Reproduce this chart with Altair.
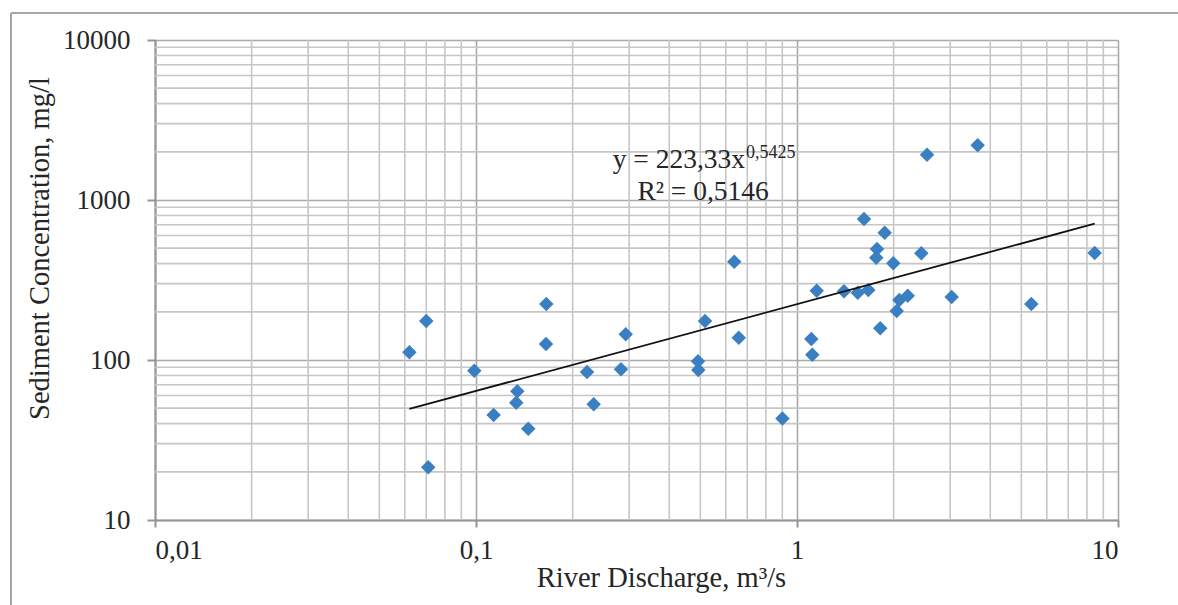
import altair as alt
import numpy as np
import pandas as pd

# River discharge (m3/s) and sediment concentration (mg/l) samples
discharge = [
    0.0620, 0.0700, 0.0710, 0.0988, 0.1135, 0.1345, 0.1335, 0.1455, 0.1656, 0.1652,
    0.2217, 0.2326, 0.2829, 0.2927, 0.4915, 0.4926, 0.5170, 0.6377, 0.6584, 0.9010,
    1.108, 1.116, 1.152, 1.401, 1.546, 1.668, 1.617, 1.775, 1.766, 1.817,
    1.876, 1.995, 2.045, 2.083, 2.213, 2.439, 2.541, 3.033, 3.655, 5.370, 8.461,
]
concentration = [
    111.7, 175.4, 21.4, 85.7, 45.3, 63.7, 54.1, 37.2, 223.9, 125.9,
    84.1, 52.9, 87.5, 144.7, 98.1, 86.6, 175.4, 411.6, 137.8, 43.1,
    135.3, 107.9, 271.1, 268.8, 263.4, 273.8, 760.8, 494.0, 436.0, 157.8,
    624.6, 402.2, 202.5, 237.1, 252.3, 464.5, 1919.0, 247.6, 2197.0, 223.9, 466.5,
]

# Power-law trend line y = a * x^b
coef_a = 223.33
coef_b = 0.5425
r_squared = "0,5146"

x_major = [0.01, 0.1, 1, 10]
y_major = [10, 100, 1000, 10000]
x_minor = [m * d for d in (0.01, 0.1, 1) for m in range(2, 10)]
y_minor = [m * d for d in (10, 100, 1000) for m in range(2, 10)]

FONT = "Liberation Serif"
TEXT = "#262626"
GRID_MINOR = "#c6c6c6"
GRID_MAJOR = "#a9a9a9"
AXIS = "#959595"

pts = pd.DataFrame({"q": discharge, "c": concentration})
x_lo, x_hi = min(discharge), max(discharge)
trend = pd.DataFrame({"q": [x_lo, x_hi], "c": [coef_a * x_lo ** coef_b, coef_a * x_hi ** coef_b]})

xs = alt.Scale(type="log", domain=[0.01, 10], nice=False)
ys = alt.Scale(type="log", domain=[10, 10000], nice=False)

x_axis = alt.Axis(
    values=x_major, title="River Discharge, m³/s", grid=True, gridColor=GRID_MAJOR, gridWidth=1.6,
    labelExpr="replace(toString(datum.value), '.', ',')", labelFont=FONT, labelFontSize=27,
    labelColor=TEXT, labelPadding=10, tickSize=7, tickColor=AXIS, tickWidth=2,
    domainColor=AXIS, domainWidth=2, titleFont=FONT, titleFontSize=28.5, titleFontWeight="normal",
    titleColor=TEXT, titlePadding=0, titleX=506,
)
y_axis = alt.Axis(
    values=y_major, title="Sediment Concentration, mg/l", grid=True, gridColor=GRID_MAJOR, gridWidth=1.6,
    format="d", labelFont=FONT, labelFontSize=27, labelColor=TEXT, labelPadding=17,
    tickSize=8, tickColor=AXIS, tickWidth=2, domainColor=AXIS, domainWidth=2,
    titleFont=FONT, titleFontSize=28.5, titleFontWeight="normal", titleColor=TEXT, titlePadding=8,
    titleY=208,
)

minor_v = alt.Chart(pd.DataFrame({"q": x_minor})).mark_rule(color=GRID_MINOR, strokeWidth=1.6).encode(
    x=alt.X("q:Q", scale=xs, axis=x_axis)
)
minor_h = alt.Chart(pd.DataFrame({"c": y_minor})).mark_rule(color=GRID_MINOR, strokeWidth=1.6).encode(
    y=alt.Y("c:Q", scale=ys, axis=y_axis)
)

points = alt.Chart(pts).mark_point(shape="diamond", filled=True, size=210, color="#3a7fc1", opacity=1).encode(
    x=alt.X("q:Q", scale=xs, axis=x_axis),
    y=alt.Y("c:Q", scale=ys, axis=y_axis),
)

line = alt.Chart(trend).mark_line(color="#111111", strokeWidth=1.8).encode(
    x=alt.X("q:Q", scale=xs), y=alt.Y("c:Q", scale=ys)
)

# Trend equation annotation
eq_main = alt.Chart(pd.DataFrame({"q": [0.689], "c": [1585], "t": [f"y = {str(coef_a).replace('.', ',')}x"]})).mark_text(
    font=FONT, fontSize=27.5, color=TEXT, align="right", baseline="alphabetic"
).encode(x=alt.X("q:Q", scale=xs), y=alt.Y("c:Q", scale=ys), text="t:N")
eq_sup = alt.Chart(pd.DataFrame({"q": [0.689], "c": [1830], "t": [str(coef_b).replace('.', ',')]})).mark_text(
    font=FONT, fontSize=18, color=TEXT, align="left", baseline="alphabetic", dx=1
).encode(x=alt.X("q:Q", scale=xs), y=alt.Y("c:Q", scale=ys), text="t:N")
eq_r2 = alt.Chart(pd.DataFrame({"q": [0.51], "c": [1000], "t": [f"R² = {r_squared}"]})).mark_text(
    font=FONT, fontSize=27.5, color=TEXT, align="center", baseline="alphabetic"
).encode(x=alt.X("q:Q", scale=xs), y=alt.Y("c:Q", scale=ys), text="t:N")

# Frame around the chart area (top and left edges)
frame_top = alt.Chart(pd.DataFrame({"k": [0]})).mark_rule(color="#a6a6a6", strokeWidth=2).encode(
    x=alt.value(-144), x2=alt.value(1040), y=alt.value(-27)
)
frame_left = alt.Chart(pd.DataFrame({"k": [0]})).mark_rule(color="#a6a6a6", strokeWidth=2).encode(
    x=alt.value(-144), y=alt.value(-27), y2=alt.value(580)
)

chart = alt.layer(
    minor_v, minor_h, points, line, eq_main, eq_sup, eq_r2, frame_top, frame_left
).properties(
    width=963, height=480,
    autosize=alt.AutoSizeParams(type="none"),
    padding={"left": 155, "top": 40, "right": 60, "bottom": 85},
    background="white",
).configure_view(stroke=None)

chart.save("out.html", embed_options={"renderer": "svg", "actions": False})
